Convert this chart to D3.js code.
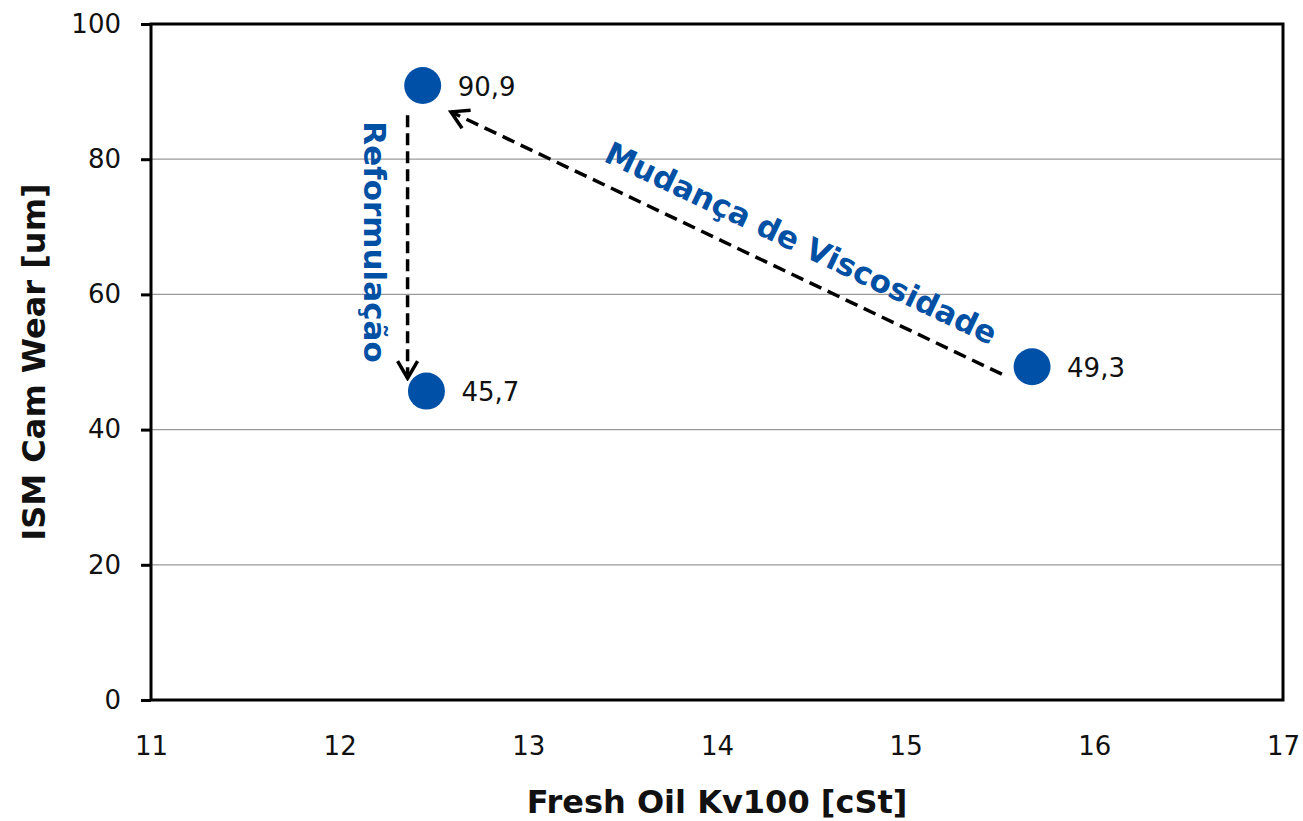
<!DOCTYPE html>
<html>
<head>
<meta charset="utf-8">
<script src="https://cdn.jsdelivr.net/npm/d3@7"></script>
<style>
  html, body { margin: 0; padding: 0; background: #fff; }
  svg { display: block; font-family: "DejaVu Sans", Verdana, sans-serif; }
</style>
</head>
<body>
<svg id="chart" width="1303" height="821"></svg>
<script>
// Fresh oil viscosity vs. cam wear
const kv100 = [12.44, 12.46, 15.67];
const camWear = [90.9, 45.7, 49.3];
const valueLabels = ["90,9", "45,7", "49,3"];

const xTicks = [11, 12, 13, 14, 15, 16, 17];
const yTicks = [0, 20, 40, 60, 80, 100];

// Annotation arrows in data units: [x1, y1, x2, y2] (arrow head at the end)
const arrowReform = [12.36, 86.5, 12.36, 47.6];
const arrowVisc = [15.51, 48.2, 12.59, 87.0];

const svg = d3.select("#chart");
const margin = { left: 151, top: 24, right: 20, bottom: 121 };
const W = 1303, H = 821;
const pw = W - margin.left - margin.right;
const ph = H - margin.top - margin.bottom;
const FONT = "DejaVu Sans, Verdana, sans-serif";

const x = d3.scaleLinear().domain([11, 17]).range([0, pw]);
const y = d3.scaleLinear().domain([0, 100]).range([ph, 0]);

const g = svg.append("g").attr("transform", `translate(${margin.left},${margin.top})`);

// gridlines
g.append("g")
  .selectAll("line")
  .data(yTicks.filter(d => d > 0 && d < 100))
  .join("line")
  .attr("x1", 0).attr("x2", pw)
  .attr("y1", d => y(d)).attr("y2", d => y(d))
  .attr("stroke", "#9a9a9a").attr("stroke-width", 1.3);

// y axis
const yAxis = g.append("g")
  .call(d3.axisLeft(y).tickValues(yTicks).tickSize(10).tickPadding(20).tickFormat(d3.format("d")));
yAxis.select(".domain").remove();
yAxis.selectAll(".tick line").attr("stroke", "#000").attr("stroke-width", 3);
yAxis.selectAll(".tick text").attr("font-size", 26).attr("fill", "#111").attr("font-family", FONT);

// x axis (labels only)
const xAxis = g.append("g").attr("transform", `translate(0,${ph})`)
  .call(d3.axisBottom(x).tickValues(xTicks).tickSize(0).tickPadding(37).tickFormat(d3.format("d")));
xAxis.select(".domain").remove();
xAxis.selectAll(".tick text").attr("font-size", 26).attr("fill", "#111").attr("font-family", FONT);

// plot frame
g.append("rect")
  .attr("x", 0).attr("y", 0).attr("width", pw).attr("height", ph)
  .attr("fill", "none").attr("stroke", "#000").attr("stroke-width", 3);

// arrow marker
svg.append("defs").append("marker")
  .attr("id", "head")
  .attr("viewBox", "0 0 24 24")
  .attr("refX", 21).attr("refY", 12)
  .attr("markerWidth", 24).attr("markerHeight", 24)
  .attr("markerUnits", "userSpaceOnUse")
  .attr("orient", "auto")
  .append("path")
  .attr("d", "M4,2 L21,12 L4,22")
  .attr("fill", "none").attr("stroke", "#000").attr("stroke-width", 3.5);

[[arrowReform, "12,6"], [arrowVisc, "13,7"]].forEach(([a, dash]) => {
  g.append("line")
    .attr("x1", x(a[0])).attr("y1", y(a[1]))
    .attr("x2", x(a[2])).attr("y2", y(a[3]))
    .attr("stroke", "#000").attr("stroke-width", 3.5)
    .attr("stroke-dasharray", dash)
    .attr("marker-end", "url(#head)");
});

// annotation texts
const blue = "#0050A4";
const vx1 = x(arrowVisc[0]), vy1 = y(arrowVisc[1]), vx2 = x(arrowVisc[2]), vy2 = y(arrowVisc[3]);
const ang = Math.atan2(vy1 - vy2, vx1 - vx2) * 180 / Math.PI;
g.append("text")
  .attr("transform", `translate(${(vx1 + vx2) / 2 + 70},${(vy1 + vy2) / 2 + 10}) rotate(${ang})`)
  .attr("text-anchor", "middle")
  .attr("font-size", 31).attr("font-weight", "bold").attr("fill", blue)
  .text("Mudança de Viscosidade");

const rx = x(arrowReform[0]);
g.append("text")
  .attr("transform", `translate(${rx - 44},${218}) rotate(90)`)
  .attr("text-anchor", "middle")
  .attr("font-size", 31).attr("font-weight", "bold").attr("fill", blue)
  .text("Reformulação");

// points
g.selectAll("circle.pt")
  .data(kv100)
  .join("circle")
  .attr("class", "pt")
  .attr("cx", d => x(d))
  .attr("cy", (d, i) => y(camWear[i]))
  .attr("r", 18.5)
  .attr("fill", "#0050A8");

g.selectAll("text.val")
  .data(kv100)
  .join("text")
  .attr("class", "val")
  .attr("x", d => x(d) + 35)
  .attr("y", (d, i) => y(camWear[i]) + 10)
  .attr("font-size", 26).attr("fill", "#111")
  .text((d, i) => valueLabels[i]);

// axis titles
svg.append("text")
  .attr("x", margin.left + pw / 2).attr("y", 813)
  .attr("text-anchor", "middle")
  .attr("font-size", 32).attr("font-weight", "bold").attr("fill", "#111")
  .text("Fresh Oil Kv100 [cSt]");

svg.append("text")
  .attr("transform", `translate(45,${margin.top + ph / 2}) rotate(-90)`)
  .attr("text-anchor", "middle")
  .attr("font-size", 32).attr("font-weight", "bold").attr("fill", "#111")
  .text("ISM Cam Wear [um]");
</script>
</body>
</html>
